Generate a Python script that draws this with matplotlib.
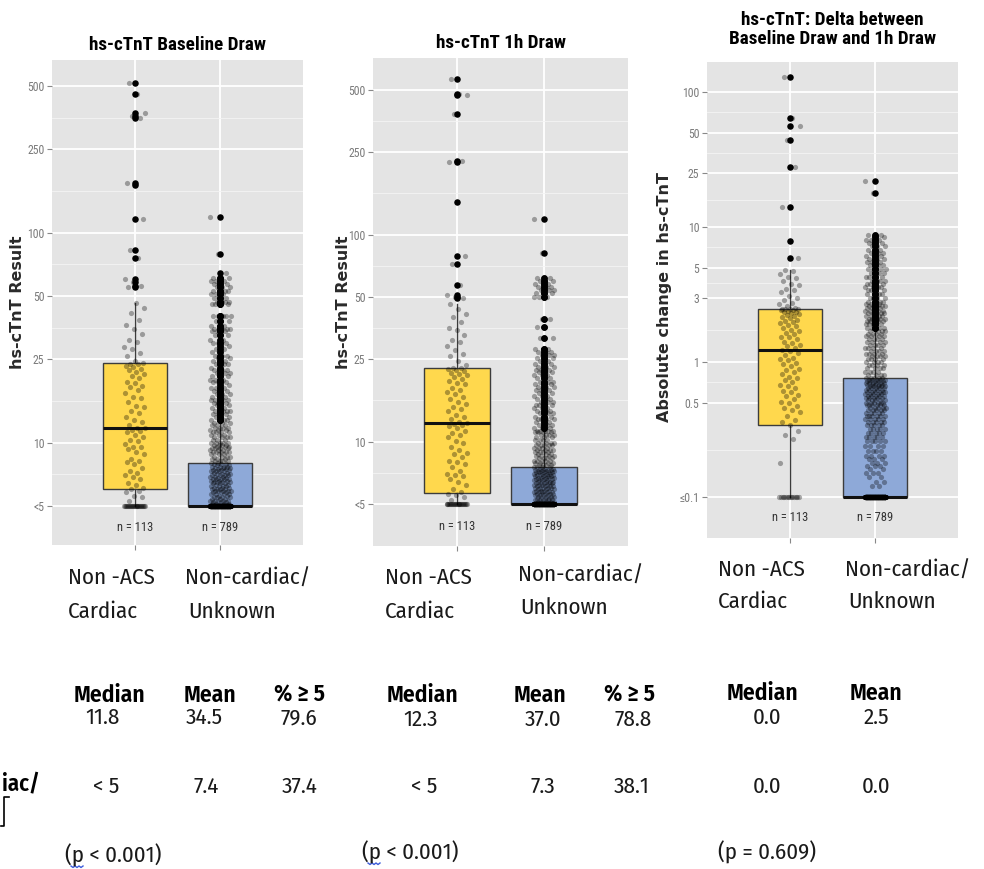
import numpy as np
import matplotlib
matplotlib.use('Agg')
import matplotlib.pyplot as plt
from matplotlib.ticker import FixedLocator, NullFormatter
from matplotlib.lines import Line2D

W, H = 984, 869

# ---------------- data ----------------
n_total = [113, 789]

# hs-cTnT baseline draw (ng/L); results below 5 are plotted on the "<5" floor
base_acs = [5.3, 5.5, 5.6, 5.8, 5.9,
            6.0, 6.1, 6.3, 6.4, 6.7, 6.9, 7.0, 7.2, 7.3, 7.6, 7.9, 8.1, 8.2, 8.4,
            8.8, 9.0, 9.3, 9.5, 9.6, 9.9, 10.2, 10.3, 10.7, 10.9, 11.2, 11.4, 11.5, 11.7,
            11.8,
            12.2, 12.6, 12.8, 13.3, 13.9, 14.1, 14.8, 15.0, 15.6, 16.3, 16.5, 17.2, 17.9,
            18.4, 18.6, 19.2, 19.5, 20.4, 20.8, 21.3, 21.7, 22.1, 22.4, 22.9, 23.3, 23.6,
            23.8, 24.0,
            24.6, 25.8, 26.9, 28.1, 28.7, 30.2, 31.0, 33.1, 34.8, 36.2, 38.5, 41.6, 44.0, 46.3,
            55, 56, 58, 60, 76, 83, 116, 168, 172, 352, 360, 372, 458, 516]
base_oth_lv = [5.1, 5.2, 5.3, 5.4, 5.5, 5.6, 5.7, 5.8, 5.9, 6.0, 6.1, 6.2, 6.3, 6.4, 6.5,
               6.6, 6.7, 6.8, 6.9, 7.0, 7.1, 7.2, 7.3, 7.4, 7.5, 7.6, 7.7, 7.8, 7.9, 8.0,
               8.2, 8.4, 8.6, 8.8, 9.0, 9.2, 9.4, 9.6, 9.8, 10.0, 10.3, 10.6, 10.9, 11.2,
               11.5, 11.8, 12.1, 12.4,
               12.8, 13.3, 13.7, 14.2, 14.6, 15.1, 15.5, 16.0, 16.6, 17.1, 17.7, 18.2, 18.8,
               19.4, 20.0, 20.7, 21.4, 22.1, 22.8, 23.6, 24.4, 25.2, 26.0, 27.0, 28.0, 29.0,
               30.0, 31.0,
               32.5, 34, 35, 36, 38, 40, 46, 47, 49, 51, 53, 55, 57, 59, 61, 64, 79, 119]
base_oth_ct = [4, 3, 5, 3, 4, 2, 4, 3, 5, 4, 3, 4, 2, 3, 4, 3, 5, 2, 3, 4, 3, 2, 4, 3, 2,
               3, 4, 2, 3, 2,
               4, 3, 4, 3, 5, 3, 4, 3, 4, 5, 3, 4, 3, 4, 3, 4, 3, 3,
               4, 3, 3, 4, 3, 3, 3, 4, 3, 3, 3, 3, 2, 3, 3, 3, 3, 3, 2, 3, 3, 2, 3, 2,
               2, 2, 3, 2,
               3, 3, 4, 3, 3, 5, 4, 4, 3, 3, 4, 3, 3, 3, 3, 1, 1, 1]
base_q1 = [6.0, 5.0]
base_med = [11.8, 5.0]
base_q3 = [24.0, 8.0]
base_lo = [5.0, 5.0]
base_hi = [46.3, 12.4]

# hs-cTnT 1h draw (ng/L)
h1_acs = [5.2, 5.4, 5.5, 5.6,
          5.7, 5.9, 6.2, 6.4, 6.6, 6.8, 6.9, 7.0, 7.2, 7.5, 7.8, 8.0, 8.1, 8.4, 8.7,
          8.8, 9.1, 9.4, 9.8, 10.1, 10.5, 10.8, 11.0, 11.3, 11.6, 11.9, 12.0, 12.2,
          12.3,
          12.5, 12.8, 13.1, 13.5, 14.0, 14.4, 14.7, 15.2, 15.5, 16.0, 16.4, 16.9, 17.3,
          17.8, 18.2, 18.9, 19.2, 19.6, 20.1, 20.5, 20.9, 21.2, 21.5, 21.9, 22.2, 22.5,
          22.7, 22.8,
          23.5, 24.6, 25.9, 26.5, 27.8, 29.0, 30.4, 31.0, 32.7, 34.6, 35.5, 37.8, 40.0,
          41.2, 43.5, 46.0,
          49.5, 50, 51, 57, 72, 79, 144, 225, 228, 383, 475, 480, 565]
h1_oth_lv = [5.1, 5.2, 5.3, 5.4, 5.5, 5.6, 5.7, 5.8, 5.9, 6.0, 6.1, 6.2, 6.3, 6.4, 6.5,
             6.6, 6.7, 6.8, 6.9, 7.0, 7.1, 7.2, 7.3, 7.4, 7.5,
             7.7, 7.9, 8.1, 8.3, 8.5, 8.7, 8.9, 9.1, 9.3, 9.6, 9.9, 10.2, 10.5, 10.8,
             11.1, 11.3,
             11.6, 12.0, 12.4, 12.8, 13.2, 13.7, 14.1, 14.6, 15.0, 15.5, 16.0, 16.6, 17.1,
             17.7, 18.3, 18.9, 19.5, 20.2, 20.9, 21.6, 22.3, 23.0, 23.8, 24.6, 25.4, 26.2,
             27.1, 28.0,
             31.5, 35.8, 39.3, 50, 52, 54, 56, 58, 60, 62, 82, 119]
h1_oth_ct = [5, 4, 4, 5, 4, 4, 5, 4, 3, 5, 4, 4, 5, 4, 4, 3, 5, 4, 4, 4, 5, 4, 4, 3, 4,
             4, 4, 5, 4, 4, 3, 4, 4, 4, 5, 4, 4, 3, 4, 4, 5,
             3, 3, 3, 4, 3, 3, 3, 3, 4, 3, 3, 3, 3, 3, 3, 3, 3, 3, 3, 3, 3, 3, 3, 2,
             3, 3, 3, 3,
             2, 2, 2, 3, 3, 3, 3, 3, 3, 2, 1, 1]
h1_q1 = [5.67, 5.0]
h1_med = [12.3, 5.0]
h1_q3 = [22.8, 7.57]
h1_lo = [5.0, 5.0]
h1_hi = [46.0, 11.3]

# absolute change between the two draws; changes of 0.1 or less sit on the floor
d_acs = [0.18, 0.27, 0.29, 0.31,
         0.34, 0.36, 0.37, 0.40, 0.43, 0.44, 0.46, 0.47, 0.50, 0.51, 0.53, 0.56, 0.57,
         0.60, 0.61, 0.64, 0.67, 0.68, 0.71, 0.74, 0.76, 0.78, 0.82, 0.84, 0.88, 0.89,
         0.93, 0.97, 0.99, 1.03, 1.06, 1.08, 1.13, 1.16, 1.20, 1.23, 1.26, 1.31, 1.33,
         1.39, 1.41, 1.47, 1.52, 1.54, 1.61, 1.64, 1.70, 1.73, 1.79, 1.84, 1.88, 1.94,
         1.97, 2.02, 2.06, 2.11, 2.14, 2.19, 2.22, 2.27, 2.30, 2.33, 2.36, 2.39, 2.42,
         2.44, 2.45, 2.46, 2.47, 2.47,
         2.52, 2.6, 2.7, 2.75, 2.9, 3.0, 3.1, 3.3, 3.4, 3.5, 3.7, 3.8, 4.0, 4.2, 4.3,
         4.5, 4.7, 4.8,
         5.9, 7.9, 14, 28, 44, 56, 64, 129]
d_oth_lv = [0.12, 0.13, 0.14, 0.15, 0.16, 0.17, 0.18, 0.19, 0.20, 0.22, 0.24, 0.26, 0.28,
            0.30, 0.32, 0.34, 0.36, 0.38, 0.40, 0.42, 0.44, 0.46, 0.48, 0.50, 0.52, 0.54,
            0.56, 0.58, 0.60, 0.62, 0.64, 0.66, 0.68, 0.70, 0.72, 0.74, 0.76,
            0.80, 0.85, 0.90, 0.95, 1.0, 1.05, 1.1, 1.15, 1.2, 1.27, 1.34, 1.41, 1.48,
            1.55, 1.62, 1.70,
            1.8, 1.9, 2.0, 2.1, 2.2, 2.3, 2.4, 2.5, 2.6, 2.7, 2.8, 3.0, 3.2, 3.4, 3.6,
            3.8, 4.0, 4.3, 4.6, 4.9, 5.2, 5.5, 5.8, 6.1, 6.4, 6.8, 7.2, 7.6, 8.0, 8.4,
            8.7, 17.8, 22]
d_oth_ct = [2, 2, 2, 3, 2, 3, 3, 3, 4, 4, 4, 5, 5, 5, 5, 5, 5, 5, 6, 5, 5, 5, 6, 6, 5,
            5, 5, 5, 6, 5, 5, 5, 5, 6, 5, 5, 5,
            4, 4, 4, 4, 4, 4, 4, 4, 4, 4, 4, 4, 4, 4, 4, 4,
            5, 5, 5, 5, 5, 5, 4, 4, 4, 4, 4, 4, 4, 4, 4, 4, 4, 4, 4, 4, 4, 3, 3, 3, 3,
            3, 3, 3, 3, 2, 2, 1, 1]
d_q1 = [0.34, 0.1]
d_med = [1.23, 0.1]
d_q3 = [2.47, 0.76]
d_lo = [0.1, 0.1]
d_hi = [4.8, 1.70]

# summary table under the plots
tbl_head = [['Median', 'Mean', '% ≥ 5'], ['Median', 'Mean', '% ≥ 5'], ['Median', 'Mean']]
tbl_acs = [['11.8', '34.5', '79.6'], ['12.3', '37.0', '78.8'], ['0.0', '2.5']]
tbl_oth = [['< 5', '7.4', '37.4'], ['< 5', '7.3', '38.1'], ['0.0', '0.0']]
p_text = ['(p < 0.001)', '(p < 0.001)', '(p = 0.609)']

# ---------------- layout ----------------
fill = ['#FFD84D', '#8EA9D8']
narrow = ['Roboto Condensed', 'IBM Plex Sans Condensed', 'DejaVu Sans']
word = ['Fira Sans Condensed', 'Asap Condensed', 'IBM Plex Sans Condensed', 'DejaVu Sans']

panels = [
    dict(rect=(52, 60, 303, 545), ylim=(3.26, 665), floor=5.0,
         ticks=[5, 10, 25, 50, 100, 250, 500],
         labels=['<5', '10', '25', '50', '100', '250', '500'],
         title=['hs-cTnT Baseline Draw'], title_y=[45],
         ylabel='hs-cTnT Result', ylab_x=18, ylab_y=302, n_y=3.93,
         acs=base_acs, oth=np.repeat(base_oth_lv, base_oth_ct),
         q1=base_q1, med=base_med, q3=base_q3, lo=base_lo, hi=base_hi),
    dict(rect=(373, 58, 628, 546), ylim=(3.13, 714), floor=5.0,
         ticks=[5, 10, 25, 50, 100, 250, 500],
         labels=['<5', '10', '25', '50', '100', '250', '500'],
         title=['hs-cTnT 1h Draw'], title_y=[43],
         ylabel='hs-cTnT Result', ylab_x=343, ylab_y=302, n_y=3.87,
         acs=h1_acs, oth=np.repeat(h1_oth_lv, h1_oth_ct),
         q1=h1_q1, med=h1_med, q3=h1_q3, lo=h1_lo, hi=h1_hi),
    dict(rect=(707, 62, 958, 538), ylim=(0.0497, 167), floor=0.1,
         ticks=[0.1, 0.5, 1, 3, 5, 10, 25, 50, 100],
         labels=['≤0.1', '0.5', '1', '3', '5', '10', '25', '50', '100'],
         title=['hs-cTnT: Delta between', 'Baseline Draw and 1h Draw'], title_y=[20, 39],
         ylabel='Absolute change in hs-cTnT', ylab_x=665, ylab_y=297, n_y=0.070,
         acs=d_acs, oth=np.repeat(d_oth_lv, d_oth_ct),
         q1=d_q1, med=d_med, q3=d_q3, lo=d_lo, hi=d_hi),
]

cat_lines = [
    [(68, 578, 'Non -ACS'), (68, 612, 'Cardiac'), (185, 578, 'Non-cardiac/'), (188, 612, 'Unknown')],
    [(385, 578, 'Non -ACS'), (385, 612, 'Cardiac'), (518, 575, 'Non-cardiac/'), (520, 608, 'Unknown')],
    [(718, 570, 'Non -ACS'), (718, 602, 'Cardiac'), (845, 570, 'Non-cardiac/'), (848, 602, 'Unknown')],
]
head_pos = [(695, [109, 210, 299]), (695, [422, 540, 629]), (693, [762, 876])]
acs_pos = [(718, [103, 204, 299]), (720, [421, 543, 633]), (718, [767, 876])]
oth_pos = [(787, [106, 206, 300]), (787, [424, 543, 632]), (787, [767, 876])]
p_pos = [(65, 855), (362, 852), (718, 852)]


def jitter(n, width=0.12):
    return ((np.arange(n) * 0.6180339887) % 1.0 - 0.5) * 2 * width


fig = plt.figure(figsize=(W / 100, H / 100), dpi=100)


def ftext(x, y, s, **kw):
    return fig.text(x / W, 1 - y / H, s, **kw)


for p in panels:
    x0, y0, x1, y1 = p['rect']
    ax = fig.add_axes([x0 / W, 1 - y1 / H, (x1 - x0) / W, (y1 - y0) / H])
    ax.set_facecolor('#E4E4E4')
    ax.set_yscale('log')
    ax.set_ylim(*p['ylim'])
    ax.set_xlim(0.035, 2.965)
    for s in ax.spines.values():
        s.set_visible(False)

    ax.yaxis.set_major_locator(FixedLocator(p['ticks']))
    ax.set_yticklabels(p['labels'], family=narrow, fontsize=8.5, color='#7a7a7a')
    mids = np.sqrt(np.array(p['ticks'][:-1]) * np.array(p['ticks'][1:]))
    ax.yaxis.set_minor_locator(FixedLocator(mids))
    ax.yaxis.set_minor_formatter(NullFormatter())
    ax.set_xticks([1, 2])
    ax.set_xticklabels([])
    ax.tick_params(which='major', length=3.5, width=0.8, color='#888888', pad=2)
    ax.tick_params(which='minor', length=0)
    ax.grid(which='major', color='white', lw=1.3)
    ax.grid(which='minor', axis='y', color='#F4F4F4', lw=0.6)
    ax.set_axisbelow(True)

    stats = [dict(q1=p['q1'][i], med=p['med'][i], q3=p['q3'][i],
                  whislo=p['lo'][i], whishi=p['hi'][i], fliers=[]) for i in range(2)]
    bp = ax.bxp(stats, positions=[1, 2], widths=0.75, patch_artist=True,
                showcaps=False, showfliers=False, manage_ticks=False,
                boxprops=dict(edgecolor='#3c3c3c', lw=1.0),
                medianprops=dict(color='#111111', lw=2.2),
                whiskerprops=dict(color='#3c3c3c', lw=1.0), zorder=2)
    for b, c in zip(bp['boxes'], fill):
        b.set_facecolor(c)

    for i, vals in enumerate([p['acs'], p['oth']]):
        vals = np.asarray(vals, dtype=float)
        n_floor = n_total[i] - len(vals)
        y = np.concatenate([np.full(n_floor, p['floor']), vals])
        ax.scatter(i + 1 + jitter(len(y)), y, s=14, c='black', alpha=0.32,
                   lw=0, zorder=4)
        out = vals[vals > p['hi'][i]]
        ax.scatter(np.full(len(out), i + 1.0), out, s=22, c='black', lw=0, zorder=3)
        ax.text(i + 1, p['n_y'], 'n = %d' % len(y), ha='center', va='center',
                family=narrow, fontsize=9, color='#333333')

    cx = (x0 + x1) / 2
    for t, ty in zip(p['title'], p['title_y']):
        ftext(cx, ty, t, ha='center', va='center', family=narrow,
              fontweight='bold', fontsize=13.8, color='black')
    ftext(p['ylab_x'], p['ylab_y'], p['ylabel'], rotation=90, ha='center',
          va='center', family='DejaVu Sans', fontweight='bold',
          fontsize=11.5, color='#2a2a2a')

# category names and summary numbers written under each plot
for k in range(3):
    for x, y, s in cat_lines[k]:
        ftext(x, y, s, ha='left', va='center', family=word, fontsize=16.5, color='#1a1a1a')
    y, xs = head_pos[k]
    for x, s in zip(xs, tbl_head[k]):
        ftext(x, y, s, ha='center', va='center', family=word, fontweight='semibold',
              fontsize=17, color='black')
    y, xs = acs_pos[k]
    for x, s in zip(xs, tbl_acs[k]):
        ftext(x, y, s, ha='center', va='center', family=word, fontsize=16.5, color='#1a1a1a')
    y, xs = oth_pos[k]
    for x, s in zip(xs, tbl_oth[k]):
        ftext(x, y, s, ha='center', va='center', family=word, fontsize=16.5, color='#1a1a1a')
    ftext(p_pos[k][0], p_pos[k][1], p_text[k], ha='left', va='center', family=word,
          fontsize=16.5, color='#1a1a1a')

# row label cut off at the left edge
ftext(40, 785, 'iac/', ha='right', va='center', family=word, fontweight='semibold',
      fontsize=16.5, color='black')
fig.add_artist(Line2D(np.array([9, 4, 4, 1]) / W, 1 - np.array([797, 797, 826, 826]) / H,
                      color='black', lw=1.2))
# spell-check squiggles under the "p"
for sx, sy in [(71, 866), (368, 863)]:
    zx = sx + np.arange(7) * 2
    zy = sy + np.array([0, 1.5, 0, 1.5, 0, 1.5, 0])
    fig.add_artist(Line2D(zx / W, 1 - zy / H, color='#3b5bdb', lw=1))

fig.savefig('out.png', dpi=100)
